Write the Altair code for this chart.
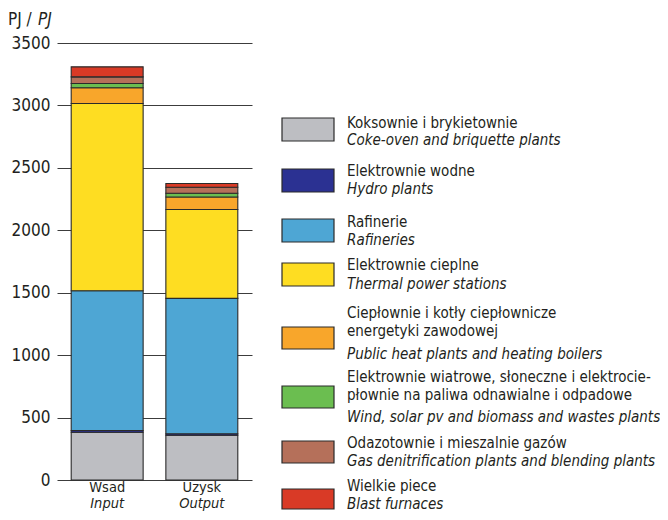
import altair as alt
import pandas as pd

# ---------------- data ----------------
keys = ["coke", "hydro", "refin", "thermal", "heat", "renew", "gas", "blast"]
groups = ["Wsad", "Uzysk"]
groups_en = ["Input", "Output"]
input_values = [382, 14, 1120, 1500, 125, 35, 53, 80]
output_values = [358, 13, 1084, 712, 100, 30, 48, 30]
y_ticks = [0, 500, 1000, 1500, 2000, 2500, 3000, 3500]

legend_pl = [
    ["Koksownie i brykietownie"],
    ["Elektrownie wodne"],
    ["Rafinerie"],
    ["Elektrownie cieplne"],
    ["Ciepłownie i kotły ciepłownicze", "energetyki zawodowej"],
    ["Elektrownie wiatrowe, słoneczne i elektrocie-", "płownie na paliwa odnawialne i odpadowe"],
    ["Odazotownie i mieszalnie gazów"],
    ["Wielkie piece"],
]
legend_en = [
    "Coke-oven and briquette plants",
    "Hydro plants",
    "Rafineries",
    "Thermal power stations",
    "Public heat plants and heating boilers",
    "Wind, solar pv and biomass and wastes plants",
    "Gas denitrification plants and blending plants",
    "Blast furnaces",
]

# ---------------- style / layout ----------------
colors = ["#BDBEC2", "#2B3192", "#4EA6D4", "#FEDD22", "#F8A62B", "#6BBE50", "#B5705A", "#D93A26"]
FONT = "Liberation Sans Narrow, DejaVu Sans Condensed, Liberation Sans, sans-serif"
TXT = "#231F20"
W, H = 195, 437
# legend layout (pixels relative to plot origin)
sw_top = [75, 126, 176, 220, 284, 343, 398, 446]
sw_bot = [98, 149, 199, 243, 306, 365, 420, 466]
pl_base = [[85], [133], [184], [227], [275, 293], [339, 357], [405], [448]]
en_base = [102, 151, 202, 246, 316, 379, 423, 466]

# ---------------- tables ----------------
rows = []
for g, vals in zip(groups, [input_values, output_values]):
    for i, (k, v) in enumerate(zip(keys, vals)):
        rows.append({"group": g, "key": k, "idx": i, "value": v})
bars_df = pd.DataFrame(rows)

xlab_df = pd.DataFrame({"group": groups, "en": groups_en})

sw_df = pd.DataFrame({"key": keys, "y0": sw_top, "y1": sw_bot})
pl_rows = []
for lines, bases in zip(legend_pl, pl_base):
    for t, b in zip(lines, bases):
        pl_rows.append({"text": t, "y": b})
pl_df = pd.DataFrame(pl_rows)
en_df = pd.DataFrame({"text": legend_en, "y": en_base})

color_scale = alt.Scale(domain=keys, range=colors)
x_scale = alt.Scale(domain=groups, paddingInner=0.24, paddingOuter=0.15)

bars = alt.Chart(bars_df).mark_bar(stroke="#2A2A2A", strokeWidth=1.1).encode(
    x=alt.X("group:N", scale=x_scale, axis=None, sort=groups),
    y=alt.Y("value:Q", stack="zero",
            scale=alt.Scale(domain=[0, 3500], nice=False),
            axis=alt.Axis(values=y_ticks, grid=True, gridColor="#3C3C3C", gridWidth=1,
                          ticks=False, domain=False, labelPadding=7, title=None, format="d",
                          labelFont=FONT, labelFontSize=17, labelColor=TXT)),
    color=alt.Color("key:N", scale=color_scale, legend=None),
    order=alt.Order("idx:Q"),
)

xl1 = alt.Chart(xlab_df).mark_text(font=FONT, fontSize=14.5, color=TXT, baseline="alphabetic").encode(
    x=alt.X("group:N", scale=x_scale, axis=None, sort=groups),
    y=alt.value(H + 12),
    text="group:N",
)
xl2 = alt.Chart(xlab_df).mark_text(font=FONT, fontSize=14.5, color=TXT, baseline="alphabetic",
                                   fontStyle="italic").encode(
    x=alt.X("group:N", scale=x_scale, axis=None, sort=groups),
    y=alt.value(H + 28),
    text="en:N",
)

title1 = alt.Chart(pd.DataFrame({"t": ["PJ /"]})).mark_text(
    font=FONT, fontSize=17, color=TXT, baseline="alphabetic", align="left").encode(
    x=alt.value(-49), y=alt.value(-18), text="t:N")
title2 = alt.Chart(pd.DataFrame({"t": ["PJ"]})).mark_text(
    font=FONT, fontSize=17, color=TXT, baseline="alphabetic", align="left", fontStyle="italic").encode(
    x=alt.value(-19), y=alt.value(-18), text="t:N")

sw = alt.Chart(sw_df).mark_rect(stroke="#2A2A2A", strokeWidth=1.2).encode(
    x=alt.value(225), x2=alt.value(277),
    y=alt.Y("y0:Q", scale=None, axis=None), y2="y1:Q",
    color=alt.Color("key:N", scale=color_scale, legend=None),
)
lt1 = alt.Chart(pl_df).mark_text(font=FONT, fontSize=15, color=TXT, baseline="alphabetic",
                                 align="left").encode(
    x=alt.value(290), y=alt.Y("y:Q", scale=None, axis=None), text="text:N")
lt2 = alt.Chart(en_df).mark_text(font=FONT, fontSize=15, color=TXT, baseline="alphabetic",
                                 align="left", fontStyle="italic").encode(
    x=alt.value(290), y=alt.Y("y:Q", scale=None, axis=None), text="text:N")

chart = alt.layer(bars, xl1, xl2, title1, title2, sw, lt1, lt2).resolve_scale(
    y="independent"
).properties(
    width=W, height=H,
    autosize=alt.AutoSizeParams(type="none"),
    padding={"left": 49, "top": 35, "right": 408, "bottom": 32},
).configure_view(stroke=None).configure_axis(labelFont=FONT)

chart.save("out.html", embed_options={"renderer": "svg", "actions": False})
